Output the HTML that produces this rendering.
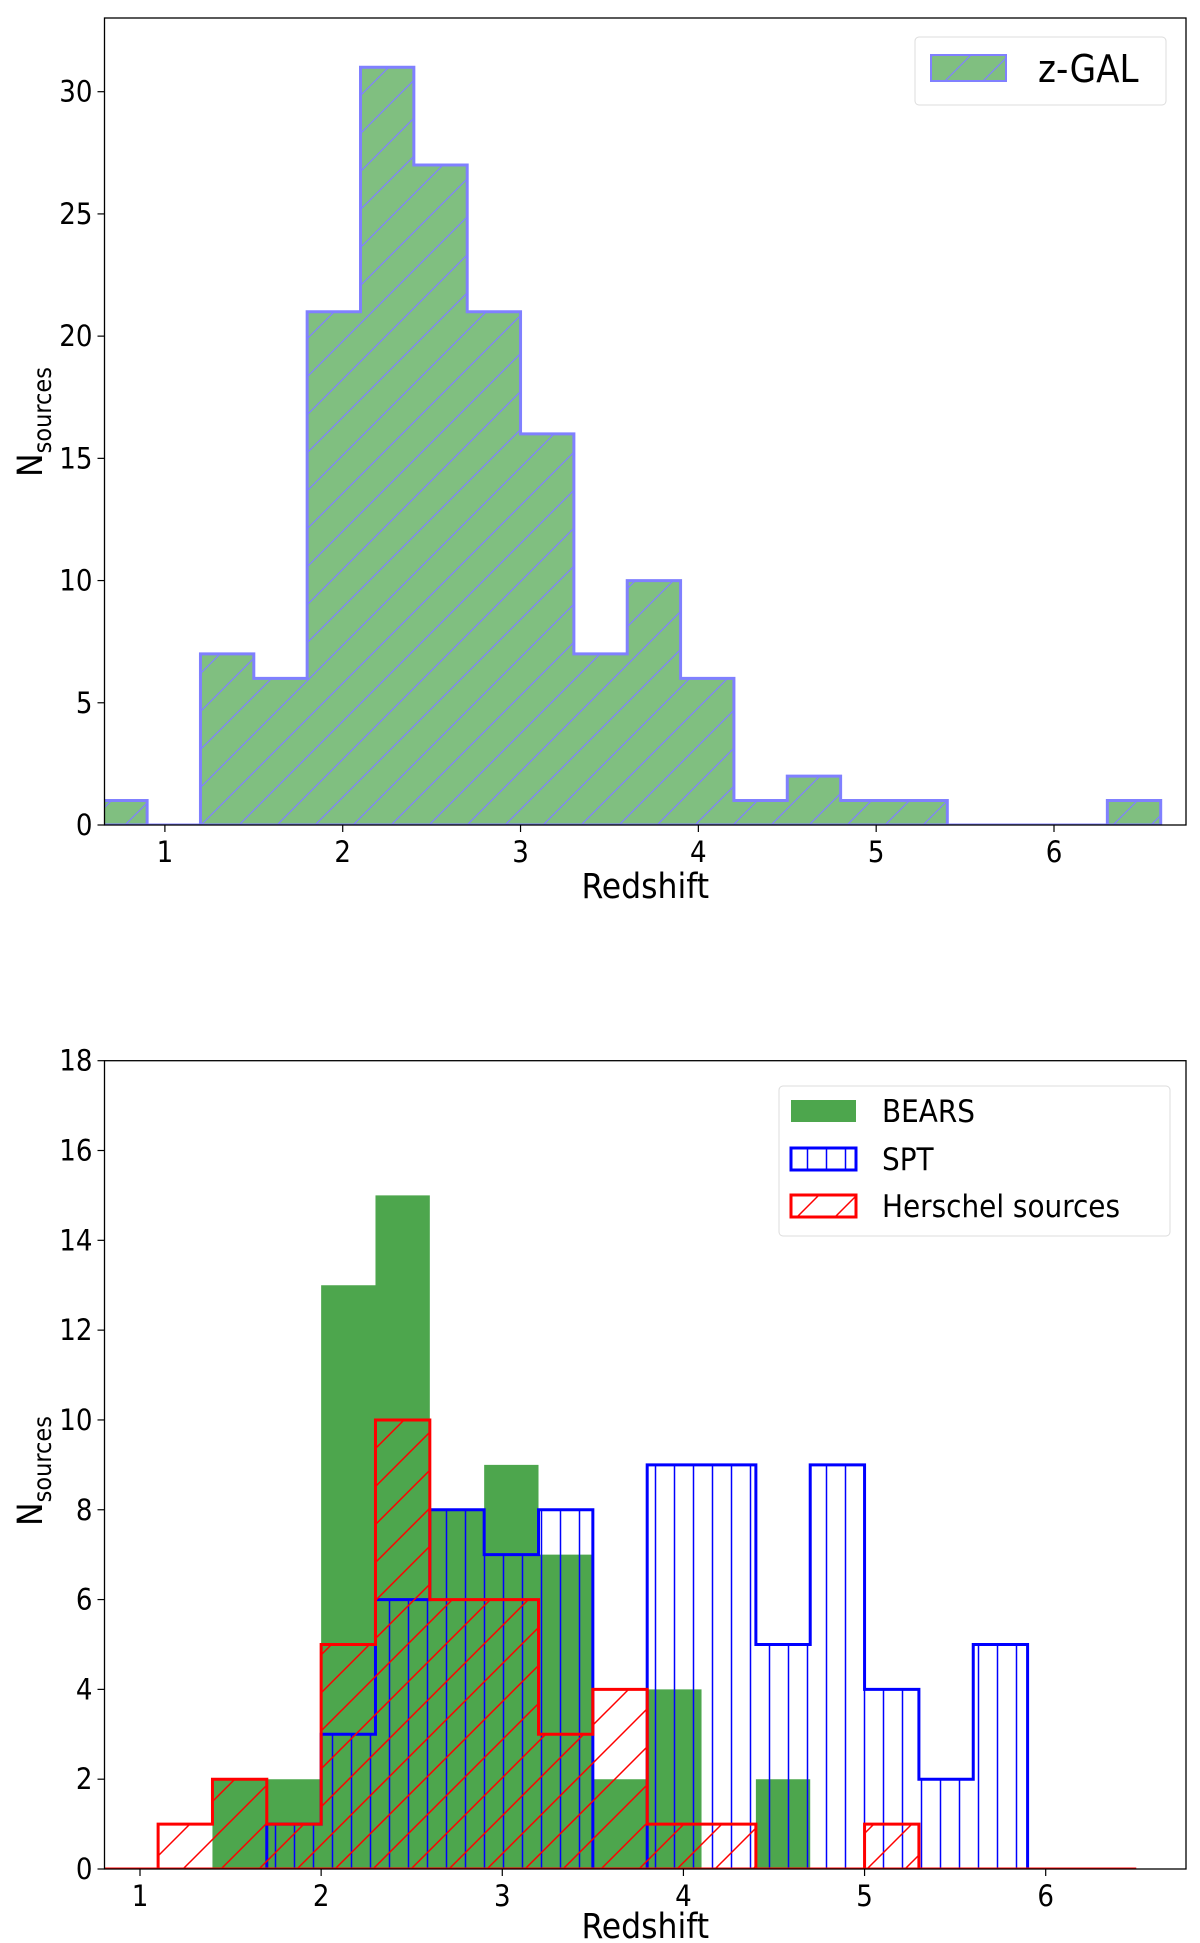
<!DOCTYPE html>
<html><head><meta charset="utf-8"><style>
html,body{margin:0;padding:0;background:#fff;}
svg{display:block;font-family:"DejaVu Sans Condensed","DejaVu Sans","Liberation Sans",sans-serif;}
</style></head><body>
<svg id="fig" width="1200" height="1943" viewBox="0 0 1200 1943" xmlns="http://www.w3.org/2000/svg">
<defs>
<pattern id="hatchTop" patternUnits="userSpaceOnUse" width="38" height="38">
<path d="M-2,40 L40,-2 M-2,2 L2,-2 M36,40 L40,36" stroke="#8080ff" stroke-width="1.2"/>
</pattern>
<pattern id="hatchRed" patternUnits="userSpaceOnUse" width="38" height="38">
<path d="M-2,40 L40,-2 M-2,2 L2,-2 M36,40 L40,36" stroke="#ff0000" stroke-width="1.5"/>
</pattern>
<pattern id="hatchBlue" patternUnits="userSpaceOnUse" width="19" height="19">
<path d="M9.5,0 L9.5,19" stroke="#0000ff" stroke-width="1.5"/>
</pattern>
<clipPath id="clipTop"><rect x="104.5" y="18" width="1081.5" height="807"/></clipPath>
<clipPath id="clipBot"><rect x="104.5" y="1060.7" width="1081.5" height="808.3"/></clipPath>
</defs>
<g id="top"></g>
<g id="bot"></g>
</svg>
<script>
// Top panel data (z-GAL)
const zgalStart = 0.6;
const binWidth = 0.3;
const zgalCounts = [1,0,7,6,21,31,27,21,16,7,10,6,1,2,1,1,0,0,0,1];
const topYTicks = [0,5,10,15,20,25,30];
const topXTicks = [1,2,3,4,5,6];
// Bottom panel data
const bearsStart = 1.4;
const bearsCounts = [2,2,13,15,8,9,7,2,4,0,2];
const sptStart = 1.1;
const sptCounts = [0,0,1,3,6,8,7,8,0,9,9,5,9,4,2,5];
const herschelStart = 0.8;
const herschelCounts = [0,1,2,1,5,10,6,6,3,4,1,1,0,0,1,0,0,0,0];
const botYTicks = [0,2,4,6,8,10,12,14,16,18];
const botXTicks = [1,2,3,4,5,6];

const NS="http://www.w3.org/2000/svg";
function mk(tag, attrs, parent){const e=document.createElementNS(NS,tag);for(const k in attrs)e.setAttribute(k,attrs[k]);parent.appendChild(e);return e;}

function axis(x0,x1,px0,px1){return v=>px0+(v-x0)/(x1-x0)*(px1-px0);}

function stepPath(start,counts,sx,sy,closed){
  let d="M"+sx(start)+","+sy(0);
  counts.forEach((c,i)=>{const a=start+i*binWidth,b=a+binWidth;d+=" L"+sx(a)+","+sy(c)+" L"+sx(b)+","+sy(c);});
  d+=" L"+sx(start+counts.length*binWidth)+","+sy(0);
  if(closed)d+=" Z";
  return d;
}

function frame(g,L,R,T,B,sx,sy,xt,yt,xLabelY,yLabelCenter){
  xt.forEach(v=>{
    const t=mk('line',{x1:sx(v),x2:sx(v),y1:B,y2:B+7,stroke:'#000','stroke-width':1.2},g);
    
    
    const l=mk('text',{x:sx(v),y:B+37,'text-anchor':'middle','font-size':29},g);
    l.textContent=v;
    
    
  });
  yt.forEach(v=>{
    const t=mk('line',{x1:L-7,x2:L,y1:sy(v),y2:sy(v),stroke:'#000','stroke-width':1.2},g);
    
    
    const l=mk('text',{x:L-12,y:sy(v)+10,'text-anchor':'end','font-size':29},g);
    l.textContent=v;
    
    
  });
  const f=mk('rect',{x:L,y:T,width:R-L,height:B-T,fill:'none',stroke:'#000','stroke-width':1.3},g);
  
  
  const xl=mk('text',{x:(L+R)/2,y:xLabelY,'text-anchor':'middle','font-size':35},g);
  xl.textContent='Redshift';
  
  
  const yl=mk('text',{transform:'translate(42,'+yLabelCenter+') rotate(-90)','text-anchor':'middle','font-size':35},g);
  yl.innerHTML='N<tspan font-size="25" dy="9">sources</tspan>';
  
  
}

// ---- Top
(function(){
  const g=document.getElementById('top');
  const L=104.5,R=1186,T=18,B=825;
  const sx=axis(1,6,164.9,1054), sy=axis(0,30,825,91.7);
  const cg=mk('g',{'clip-path':'url(#clipTop)'},g);
  const d=stepPath(zgalStart,zgalCounts,sx,sy,true);
  const p=mk('path',{d:d,fill:'#80bf80'},cg);
  
  
  const h=mk('path',{d:d,fill:'url(#hatchTop)',stroke:'#8080ff','stroke-width':3,'stroke-linejoin':'miter'},cg);
  
  
  frame(g,L,R,T,B,sx,sy,topXTicks,topYTicks,898,422);
  const lg=mk('g',{},g);
  
  
  mk('rect',{x:915,y:37,width:251,height:68,rx:4,fill:'#fff',stroke:'#dcdcdc','stroke-width':1},lg);
  const pa=mk('rect',{x:931,y:55,width:75,height:26,fill:'#80bf80',stroke:'#8080ff','stroke-width':2},lg);
  mk('rect',{x:931,y:55,width:75,height:26,fill:'url(#hatchTop)'},lg);
  
  
  const t=mk('text',{x:1038,y:82,'font-size':38},lg);
  t.textContent='z-GAL';
  
  
})();

// ---- Bottom
(function(){
  const g=document.getElementById('bot');
  const L=104.5,R=1186,T=1060.7,B=1869;
  const sx=axis(1,6,140,1045.7), sy=axis(0,18,1869,1060.7);
  const cg=mk('g',{'clip-path':'url(#clipBot)'},g);
  const gp=mk('path',{d:stepPath(bearsStart,bearsCounts,sx,sy,true),fill:'#4da64d'},cg);
  
  
  const bd=stepPath(sptStart,sptCounts,sx,sy,true);
  const bp=mk('path',{d:bd,fill:'url(#hatchBlue)',stroke:'#0000ff','stroke-width':3},cg);
  
  
  const rd=stepPath(herschelStart,herschelCounts,sx,sy,true);
  const rp=mk('path',{d:rd,fill:'url(#hatchRed)',stroke:'#ff0000','stroke-width':3},cg);
  
  
  frame(g,L,R,T,B,sx,sy,botXTicks,botYTicks,1938,1471);
  const lg=mk('g',{},g);
  
  
  mk('rect',{x:779,y:1086,width:391,height:150,rx:4,fill:'#fff',stroke:'#dcdcdc','stroke-width':1},lg);
  const ent=[['BEARS',1111,'#4da64d','none',null],['SPT',1159,'none','#0000ff','url(#hatchBlue)'],['Herschel sources',1206,'none','#ff0000','url(#hatchRed)']];
  ent.forEach(e=>{
    const s=mk('rect',{x:791,y:e[1]-11,width:65,height:22,fill:e[2],stroke:e[3],'stroke-width':3},lg);
    
    
    if(e[4])mk('rect',{x:791,y:e[1]-11,width:65,height:22,fill:e[4]},lg);
    const t=mk('text',{x:882,y:e[1]+11,'font-size':31},lg);
    t.textContent=e[0];
    
    
  });
})();
</script>
</body></html>
